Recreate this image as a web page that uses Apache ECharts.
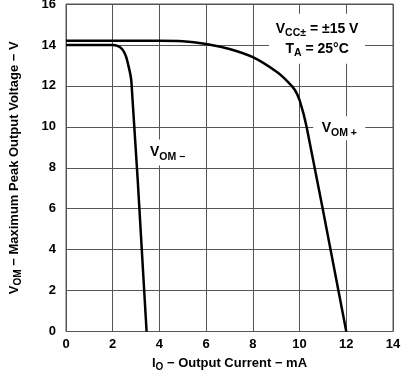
<!DOCTYPE html>
<html>
<head>
<meta charset="utf-8">
<style>
html,body{margin:0;padding:0;background:#fff;}
#chart{width:401px;height:374px;}
</style>
<script src="https://cdn.jsdelivr.net/npm/echarts@6/dist/echarts.min.js"></script>
</head>
<body>
<div id="chart"></div>
<script>
// Data
var vomPlusX = [0, 4, 5, 6, 7, 8, 9, 9.5, 9.8, 10, 10.3, 12];
var vomPlusY = [14.2, 14.2, 14.18, 14.05, 13.8, 13.4, 12.7, 12.2, 11.8, 11.3, 10.0, 0];
var vomMinusX = [0, 2, 2.2, 2.4, 2.55, 2.65, 2.8, 3.45];
var vomMinusY = [14.0, 14.0, 13.95, 13.8, 13.5, 13.1, 12.2, 0];
var xTicks = [0, 2, 4, 6, 8, 10, 12, 14];
var yTicks = [0, 2, 4, 6, 8, 10, 12, 14, 16];
var annotations = [
  {x: 10.75, y: 14.3, text: '{m|V}{s|CC±}{m| = ±15 V}\n{m|T}{s|A}{m| = 25°C}', w: 96, h: 50},
  {x: 4.35, y: 8.75, text: '{m|V}{s|OM −}', w: 53, h: 26},
  {x: 11.7, y: 9.93, text: '{m|V}{s|OM +}', w: 52, h: 24}
];

function pairs(xs, ys) { return xs.map(function (x, i) { return [x, ys[i]]; }); }

var FONT = '"Liberation Sans", Arial, sans-serif';
var richMain = {
  m: {fontSize: 14, fontWeight: 'bold', fontFamily: FONT, color: '#000', lineHeight: 20},
  s: {fontSize: 10.5, fontWeight: 'bold', fontFamily: FONT, color: '#000', verticalAlign: 'bottom', lineHeight: 12}
};

var chart = echarts.init(document.getElementById('chart'), null, {renderer: 'canvas'});
var option = {
  animation: false,
  backgroundColor: '#fff',
  grid: {left: 66, right: 8, top: 4, bottom: 42.5, show: true, borderColor: '#555', borderWidth: 1,
    containLabel: false, outerBoundsMode: 'none'},
  xAxis: {
    type: 'value', min: 0, max: 14, interval: 2,
    name: '{m|I}{s|O}{m| − Output Current − mA}',
    nameLocation: 'middle', nameGap: 23,
    nameTextStyle: {rich: {
      m: {fontSize: 13, fontWeight: 'bold', fontFamily: FONT, color: '#000', lineHeight: 18},
      s: {fontSize: 10, fontWeight: 'bold', fontFamily: FONT, color: '#000', verticalAlign: 'bottom', lineHeight: 11}
    }},
    axisLine: {show: false}, axisTick: {show: false},
    axisLabel: {fontSize: 13, fontWeight: 'bold', fontFamily: FONT, color: '#000', margin: 6,
      formatter: function (v) { return xTicks.indexOf(v) >= 0 ? String(v) : ''; }},
    splitLine: {show: true, lineStyle: {color: '#555', width: 1}}
  },
  yAxis: {
    type: 'value', min: 0, max: 16, interval: 2,
    name: '{m|V}{s|OM}{m| − Maximum Peak Output Voltage − V}',
    nameLocation: 'middle', nameGap: 43, nameRotate: 90,
    nameTextStyle: {rich: {
      m: {fontSize: 13, fontWeight: 'bold', fontFamily: FONT, color: '#000', lineHeight: 18},
      s: {fontSize: 10, fontWeight: 'bold', fontFamily: FONT, color: '#000', verticalAlign: 'bottom', lineHeight: 11}
    }},
    axisLine: {show: false}, axisTick: {show: false},
    axisLabel: {fontSize: 13, fontWeight: 'bold', fontFamily: FONT, color: '#000', margin: 10,
      formatter: function (v) { return yTicks.indexOf(v) >= 0 ? String(v) : ''; }},
    splitLine: {show: true, lineStyle: {color: '#555', width: 1}}
  },
  series: [
    {type: 'line', name: 'VOM+', data: pairs(vomPlusX, vomPlusY), smooth: 0.35, symbol: 'none',
     lineStyle: {color: '#000', width: 2.5}, z: 5},
    {type: 'line', name: 'VOM-', data: pairs(vomMinusX, vomMinusY), smooth: 0.35, symbol: 'none',
     lineStyle: {color: '#000', width: 2.5}, z: 5}
  ]
};
chart.setOption(option);

var g = annotations.map(function (a) {
  var p = chart.convertToPixel({gridIndex: 0}, [a.x, a.y]);
  return {
    type: 'group', x: p[0], y: p[1], z: 10,
    children: [
      {type: 'rect', shape: {x: -a.w / 2, y: -a.h / 2, width: a.w, height: a.h}, style: {fill: '#fff'}},
      {type: 'text', x: 0, y: 0, style: {text: a.text, rich: richMain, align: 'center', verticalAlign: 'middle'}}
    ]
  };
});
chart.setOption({graphic: g});
</script>
</body>
</html>
